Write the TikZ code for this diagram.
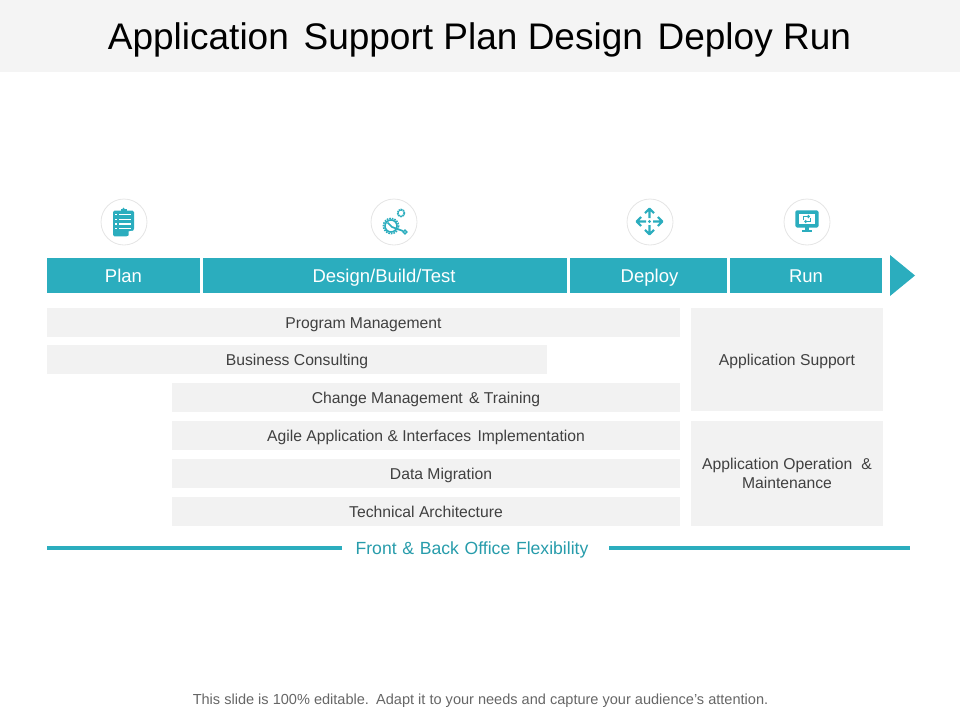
\documentclass[tikz,border=0pt]{standalone}
\usepackage{fontspec}
\setmainfont{Liberation Sans}
\usetikzlibrary{arrows.meta}
\definecolor{teal1}{HTML}{2BADBE}
\definecolor{band}{HTML}{F2F2F2}
\definecolor{headband}{HTML}{F4F4F4}
\definecolor{ink}{HTML}{404040}
\newcommand{\fs}[1]{\fontsize{#1}{#1}\selectfont}
\tikzset{
 x=1pt,y=-1pt,
 phase/.style={fill=teal1,text=white,inner sep=0,anchor=center,font=\fs{18.5},text height=15.5pt,text depth=2pt},
 barbox/.style={fill=band,text=ink,inner sep=0,anchor=center,font=\fs{15.7},align=center,text height=13.2pt,text depth=2pt},
 ring/.style={circle,draw=black!10,fill=white,line width=.8pt,minimum size=46pt,inner sep=0},
 icon/.style={fill=teal1,draw=none},
 mv/.style={draw=teal1,line width=2.1pt,line join=round},
 rule/.style={draw=teal1,line width=4.6pt},
}
\begin{document}
\begin{tikzpicture}
\useasboundingbox (0,0) rectangle (960,720);
\fill[headband] (0,0) rectangle (960,72);
\node[font=\fs{37},text=black,inner sep=0] (title) at (479.5,40) {Application\hspace{.12em} Support Plan Design\hspace{.12em} Deploy Run};
% phases
\node[phase,minimum width=153pt,minimum height=35pt] (plan) at (123.5,275.5) {Plan};
\node[phase,minimum width=364pt,minimum height=35pt] (design) at (385,275.5) {\kern-2pt Design/Build/Test};
\node[phase,minimum width=157pt,minimum height=35pt] (deploy) at (648.5,275.5) {\kern2pt Deploy};
\node[phase,minimum width=152pt,minimum height=35pt] (run) at (806,275.5) {Run};
\fill[teal1] (890,255) -- (915,275.5) -- (890,296) -- cycle;
% bars
\node[barbox,minimum width=633pt,minimum height=29pt] (b1) at (363.5,322.5) {Program Management};
\node[barbox,minimum width=500pt,minimum height=29pt] (b2) at (297,359.5) {Business Consulting};
\node[barbox,minimum width=508pt,minimum height=29pt] (b3) at (426,397.5) {Change Management\hspace{.12em} \&\ Training};
\node[barbox,minimum width=508pt,minimum height=29pt] (b4) at (426,435.5) {Agile Application \&\ Interfaces\hspace{.12em} Implementation};
\node[barbox,minimum width=508pt,minimum height=29pt] (b5) at (426,473.5) {\kern30pt Data Migration};
\node[barbox,minimum width=508pt,minimum height=29pt] (b6) at (426,511.5) {Technical Architecture};
\node[barbox,minimum width=192pt,minimum height=103pt] (s1) at (787,359.5) {Application Support};
\node[fill=band,text=ink,inner sep=0,align=center,minimum width=192pt,minimum height=105pt,font=\fontsize{15.7}{19}\selectfont] (s2) at (787,473.5) {Application Operation\hspace{.3em} \&\\Maintenance};
% footer rule
\draw[rule] (47,548) -- (342,548);
\draw[rule] (609,548) -- (910,548);
\node[font=\fs{17.6},text=teal1!90!black,inner sep=0] (flex) at (472,550) {\spaceskip=5.7pt Front \&{} Back Office Flexibility};
\node[font=\fs{14.55},text=black!60,inner sep=0] (foot) at (480.5,700.5) {This slide is 100\%\ editable.\hspace{.12em} Adapt it to your needs and capture your audience's attention.};
% icon rings
\node[ring] (r1) at (124,222) {};
\node[ring] (r2) at (394,222) {};
\node[ring] (r3) at (650,222) {};
\node[ring] (r4) at (807,222) {};
% clipboard
\fill[icon,rounded corners=1.5pt] (113,210.7) -- (134,210.7) -- (134,230) -- (128,236.3) -- (113,236.3) -- cycle;
\fill[icon] (120.5,208.7) rectangle (126.5,212);
\fill[icon] (123.5,208.7) circle (1);
\fill[white] (134.5,230.5) -- (128.5,236.8) -- (128.6,231.4) -- cycle;
\foreach \yy in {214.7,219.3,224,228.7} {\draw[white,line width=1.2pt] (115.2,\yy) -- (116.8,\yy) (119.3,\yy) -- (130.5,\yy);}
% gear and wrench
\draw[teal1,line width=1.6pt,dash pattern=on 1.6pt off 1pt] (391,226) circle (7.6);
\draw[teal1,line width=1.6pt] (391,226) circle (6);
\draw[teal1,line width=1.8pt,dash pattern=on 1.6pt off .6pt] (401,213) circle (3.4);
\draw[teal1,line width=1.7pt] (387.5,222.5) -- (392,227) -- (403,231);
\draw[teal1,line width=1.3pt,fill=white] (405,232) circle (1.9);
% move arrows
\draw[mv] (649.5,218) -- (649.5,209) (645,213.2) -- (649.5,208.7) -- (654,213.2);
\draw[mv] (649.5,225) -- (649.5,234) (645,229.8) -- (649.5,234.3) -- (654,229.8);
\draw[mv] (646,221.5) -- (637,221.5) (641.2,217) -- (636.7,221.5) -- (641.2,226);
\draw[mv] (653,221.5) -- (662,221.5) (657.8,217) -- (662.3,221.5) -- (657.8,226);
\fill[icon] (649.5,221.5) circle (1.6);
% monitor
\fill[icon,rounded corners=1.5pt] (795.3,210.3) rectangle (818.5,227.5);
\fill[white] (798.7,213.7) rectangle (815,224);
\fill[icon] (804.5,227) rectangle (809,231);
\fill[icon] (802,230.3) rectangle (811.5,232.3);
\draw[teal1,line width=1pt,-{Straight Barb[length=1.5pt,width=3pt]}] (803.5,220) -- (803.5,216.5) -- (810,216.5);
\draw[teal1,line width=1pt,-{Straight Barb[length=1.5pt,width=3pt]}] (810.5,218) -- (810.5,221.5) -- (804,221.5);
\end{tikzpicture}
\end{document}
